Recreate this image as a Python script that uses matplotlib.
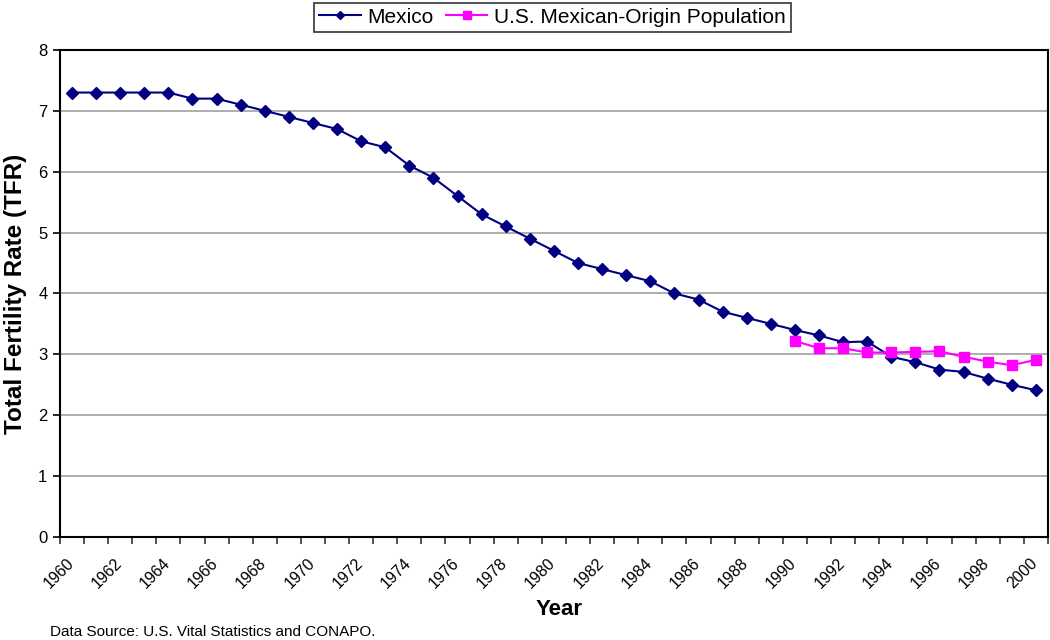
import numpy as np
import matplotlib
matplotlib.use("Agg")
import matplotlib.pyplot as plt
from matplotlib.ticker import FixedLocator

plt.rcParams["font.family"] = ["Liberation Sans", "DejaVu Sans"]

years = list(range(1960, 2001))
mexico_tfr = [7.3, 7.3, 7.3, 7.3, 7.3, 7.2, 7.2, 7.1, 7.0, 6.9,
              6.8, 6.7, 6.5, 6.4, 6.1, 5.9, 5.6, 5.3, 5.1, 4.9,
              4.7, 4.5, 4.4, 4.3, 4.2, 4.0, 3.9, 3.7, 3.6, 3.5,
              3.4, 3.31, 3.2, 3.21, 2.96, 2.87, 2.75, 2.71, 2.6, 2.5,
              2.41]
us_years = list(range(1990, 2001))
us_mexican_tfr = [3.22, 3.1, 3.1, 3.03, 3.03, 3.04, 3.05, 2.96, 2.88, 2.82, 2.91]

label_years = years[::2]

fig = plt.figure(figsize=(10.5, 6.4), dpi=100)
ax = fig.add_axes([0.0571, 0.161, 0.9409, 0.761])

# category positions (Excel style: points centred between tick marks)
x_mex = np.arange(len(years))
x_us = np.array([years.index(y) for y in us_years])

ax.plot(x_mex, mexico_tfr, color="#000080", lw=1.5, marker="D", ms=6.5,
        mec="#000080", mfc="#000080", label="Mexico", zorder=3)
ax.plot(x_us, us_mexican_tfr, color="#FF00FF", lw=1.5, marker="s", ms=7.5,
        mec="#FF00FF", mfc="#FF00FF", label="U.S. Mexican-Origin Population", zorder=4)

ax.set_xlim(-0.5, len(years) - 0.5)
ax.set_ylim(0, 8)
ax.set_yticks(range(0, 9))
ax.yaxis.grid(True, color="#A0A0A0", lw=1.2)
ax.set_axisbelow(True)

ax.xaxis.set_major_locator(FixedLocator(np.arange(-0.5, len(years), 1.0)))
ax.set_xticklabels([])
for yr in label_years:
    ax.text(years.index(yr) - 0.25, -0.3, str(yr), rotation=45, ha="right", va="top",
            rotation_mode="anchor", fontsize=11.5, transform=ax.transData)

ax.tick_params(axis="x", direction="out", length=5, width=1.2, color="#333333")
ax.tick_params(axis="y", direction="out", length=5, width=1.2, labelsize=12, pad=4)

for side in ["left", "bottom", "top", "right"]:
    ax.spines[side].set_linewidth(1.5)
    ax.spines[side].set_color("black")

ax.set_ylabel("Total Fertility Rate (TFR)", fontsize=17.5, fontweight="bold", labelpad=8)
fig.text(0.532, 0.047, "Year", ha="center", va="center", fontsize=16, fontweight="bold")
fig.text(0.048, 0.012, "Data Source: U.S. Vital Statistics and CONAPO.", ha="left",
         va="center", fontsize=11)

leg = fig.legend(loc="center", bbox_to_anchor=(0.526, 0.973), ncol=2, fontsize=15,
                 frameon=True, fancybox=False, edgecolor="black", handlelength=2.0,
                 handletextpad=0.3, columnspacing=0.6, borderpad=0.25, markerscale=0.7)
leg.get_frame().set_linewidth(1.2)

fig.savefig("out.png", dpi=100)
